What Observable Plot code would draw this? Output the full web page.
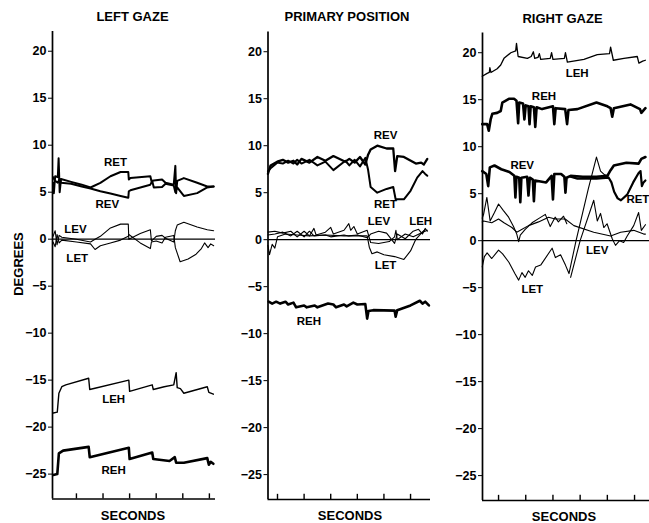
<!DOCTYPE html>
<html><head><meta charset="utf-8">
<script src="https://cdn.jsdelivr.net/npm/d3@7"></script>
<script src="https://cdn.jsdelivr.net/npm/@observablehq/plot@0.6"></script>
<style>
html,body{margin:0;padding:0;background:#fff;}
#wrap{position:relative;width:649px;height:523px;overflow:hidden;font-family:"Liberation Sans",Arial,Helvetica,sans-serif;font-weight:bold;color:#000;}
.t{position:absolute;white-space:nowrap;transform:translate(-50%,-50%);font-size:13px;}
.panel{position:absolute;top:0;}
.panel svg{overflow:visible;}
</style></head><body>
<div id="wrap"></div>
<script>
// ---- scales / ticks ----
const yDomain = [-27.65, 22.1];
const yTicks = [-25, -20, -15, -10, -5, 0, 5, 10, 15, 20];
const secondTicks = [1, 2, 3, 4, 5, 6];
const panelTitles = ["LEFT GAZE", "PRIMARY POSITION", "RIGHT GAZE"];
const xLabel = "SECONDS";
const yLabel = "DEGREES";

// ---- LEFT GAZE traces: [seconds, degrees] ----
const leftRET = [[0.12,6.0],[0.15,4.9],[0.2,6.7],[0.3,6.6],[0.33,8.6],[0.37,5.0],[0.42,6.4],[0.8,6.1],[1.2,5.8],[1.53,5.5],[1.9,6.0],[2.28,6.7],[2.66,7.15],[2.95,7.15],[2.97,6.35],[3.03,6.5],[3.78,6.7],[3.82,6.2],[3.91,6.25],[4.22,6.35],[4.35,6.0],[4.66,5.8],[4.72,7.8],[4.75,4.9],[4.79,6.2],[5.04,6.5],[5.54,6.0],[5.92,5.6],[6.16,5.6]];
const leftREV = [[0.12,6.6],[0.2,6.2],[0.3,6.0],[0.36,6.4],[0.42,6.0],[0.8,5.9],[1.2,5.6],[1.53,5.4],[1.9,5.1],[2.28,4.85],[2.66,4.6],[2.95,4.4],[2.97,5.1],[3.03,5.2],[3.78,5.8],[3.85,6.2],[3.91,5.5],[4.22,5.55],[4.35,5.9],[4.66,5.7],[4.72,5.0],[4.79,5.5],[5.04,4.6],[5.54,4.9],[5.92,5.5],[6.16,5.6]];
const leftLEV = [[0.12,0.3],[0.2,0.9],[0.27,-0.6],[0.35,0.4],[0.45,0.2],[1.0,0.0],[1.53,-0.3],[1.7,0.0],[1.9,0.3],[2.28,1.2],[2.66,1.6],[2.95,1.6],[2.97,0.0],[3.4,0.6],[3.78,1.0],[3.82,-0.2],[4.0,0.3],[4.22,0.4],[4.35,0.1],[4.66,-0.3],[4.72,0.9],[4.79,1.5],[5.04,1.8],[5.54,1.3],[5.92,1.0],[6.16,0.9]];
const leftLET = [[0.12,-0.3],[0.2,-0.8],[0.27,0.5],[0.35,-0.4],[0.45,-0.1],[1.0,-0.3],[1.53,-0.5],[1.7,-1.1],[1.9,-0.7],[2.28,-0.4],[2.66,-0.1],[2.95,0.3],[2.97,0.5],[3.4,-0.4],[3.78,-1.0],[3.82,-0.3],[4.0,-0.2],[4.22,-0.4],[4.35,0.2],[4.66,0.4],[4.72,-0.9],[4.9,-2.4],[5.2,-2.1],[5.5,-1.6],[5.7,-1.0],[5.82,-0.4],[5.95,-0.9],[6.05,-0.5],[6.16,-0.7]];
const leftLEH = [[0.13,-18.5],[0.28,-18.4],[0.34,-16.4],[0.45,-15.7],[0.6,-15.5],[1.46,-14.8],[1.5,-16.0],[2.97,-15.0],[3.0,-16.2],[3.85,-15.5],[3.89,-16.0],[4.3,-15.7],[4.66,-15.5],[4.75,-14.2],[4.79,-15.8],[4.91,-15.9],[5.04,-16.4],[5.92,-15.7],[5.98,-16.3],[6.15,-16.5]];
const leftREH = [[0.13,-25.1],[0.28,-25.0],[0.34,-22.8],[0.5,-22.5],[1.46,-22.1],[1.5,-23.2],[2.97,-22.2],[3.0,-23.4],[3.85,-22.7],[3.89,-23.4],[4.5,-23.6],[4.7,-23.2],[4.75,-23.8],[5.04,-23.8],[5.92,-23.3],[5.98,-24.0],[6.05,-23.7],[6.15,-23.9]];
const leftLabels = [["RET",2.47,8.2],["REV",2.16,3.7],["LEV",0.96,1.05],["LET",1.03,-2.0],["LEH",2.4,-17.05],["REH",2.4,-24.6]];

// ---- PRIMARY POSITION traces ----
const primREV = [[0.64,7.0],[0.74,7.9],[0.99,8.3],[1.2,8.5],[1.4,8.2],[1.6,8.4],[1.74,8.0],[1.9,8.6],[2.2,8.2],[2.5,8.8],[2.8,8.4],[3.1,8.9],[3.55,8.3],[3.7,8.6],[3.9,8.2],[4.1,8.8],[4.3,8.0],[4.4,9.0],[4.5,9.6],[4.75,10.0],[5.1,9.7],[5.35,9.7],[5.42,7.3],[5.5,8.9],[5.75,8.8],[6.2,8.1],[6.4,8.2],[6.5,8.0],[6.63,8.6]];
const primRET = [[0.64,7.3],[0.74,7.6],[0.99,8.2],[1.2,8.1],[1.4,8.4],[1.6,8.1],[1.74,8.5],[1.9,8.1],[2.2,8.5],[2.5,7.9],[2.8,8.3],[3.1,7.4],[3.55,8.4],[3.7,7.9],[3.9,8.5],[4.1,7.8],[4.3,8.7],[4.4,7.5],[4.5,5.6],[4.75,5.0],[5.1,5.4],[5.35,5.6],[5.44,4.3],[5.75,4.3],[6.0,5.2],[6.25,6.6],[6.45,7.3],[6.55,7.0],[6.63,6.8]];
const primLEV = [[0.64,0.8],[0.9,0.9],[1.2,0.7],[1.5,0.9],[1.74,0.3],[2.0,0.9],[2.2,0.4],[2.37,1.2],[2.45,0.5],[2.8,0.8],[3.0,1.3],[3.1,0.6],[3.5,1.0],[3.68,1.7],[3.75,1.0],[3.87,1.4],[4.0,0.6],[4.37,1.0],[4.5,-0.3],[4.8,-0.4],[5.2,-0.2],[5.4,0.3],[5.45,1.0],[5.5,0.0],[5.8,0.6],[6.1,0.3],[6.4,0.7],[6.63,1.0]];
const primLEH = [[0.64,0.5],[0.9,0.6],[1.2,0.8],[1.5,0.4],[1.74,0.9],[2.0,0.3],[2.2,0.9],[2.37,0.4],[2.8,0.5],[3.0,0.3],[3.5,0.5],[3.68,0.4],[4.0,0.5],[4.37,0.2],[4.5,0.6],[4.8,0.9],[5.1,0.7],[5.4,-0.4],[5.5,0.6],[5.8,0.1],[6.1,0.9],[6.3,1.1],[6.45,0.6],[6.55,1.2],[6.63,0.9]];
const primLET = [[0.64,-0.6],[0.7,-1.6],[0.8,-0.5],[0.9,-0.9],[1.0,0.3],[1.3,0.6],[1.74,0.5],[2.2,0.4],[2.8,0.5],[3.5,0.4],[4.37,0.4],[4.45,-0.8],[4.55,-1.5],[4.75,-1.3],[5.0,-1.6],[5.4,-1.8],[5.75,-2.1],[6.0,-1.2],[6.19,0.0],[6.44,0.8],[6.55,1.1]];
const primREH = [[0.67,-6.6],[0.8,-6.8],[0.95,-6.6],[1.1,-6.8],[1.3,-6.6],[1.4,-6.9],[1.6,-6.7],[1.7,-7.2],[2.0,-7.0],[2.1,-7.2],[2.4,-7.0],[2.5,-7.2],[2.9,-6.8],[3.1,-6.9],[3.2,-7.2],[3.5,-6.9],[3.6,-7.1],[3.85,-6.7],[4.0,-6.9],[4.3,-6.85],[4.37,-8.4],[4.42,-7.6],[4.6,-7.5],[5.4,-7.55],[5.44,-8.2],[5.5,-7.5],[6.0,-7.0],[6.35,-6.5],[6.45,-6.8],[6.55,-6.6],[6.69,-7.0]];
const primLabels = [["REV",5.06,11.06],["RET",5.06,3.72],["LEV",4.81,1.91],["LEH",6.38,1.91],["LET",5.06,-2.77],["REH",2.18,-8.69]];

// ---- RIGHT GAZE traces (NaN = trace break) ----
const rightLEH = [[0.4,17.5],[0.58,17.8],[0.66,17.9],[0.68,18.4],[0.72,17.9],[0.95,18.3],[1.08,18.7],[1.2,19.4],[1.45,20.0],[1.63,20.2],[1.66,21.0],[1.72,19.6],[2.06,19.4],[2.2,19.6],[2.28,20.1],[2.33,19.4],[2.45,19.5],[2.5,19.9],[2.55,19.3],[2.9,19.4],[2.95,20.0],[3.0,19.3],[3.42,19.4],[3.46,20.0],[3.53,19.0],[4.14,19.3],[4.63,19.8],[5.08,19.9],[5.12,20.6],[5.22,19.2],[5.61,19.4],[6.1,19.6],[6.16,18.9],[6.3,19.1],[6.4,19.2]];
const rightREH = [[0.4,12.4],[0.58,12.4],[0.64,11.7],[0.71,12.9],[0.77,13.5],[0.95,13.6],[1.08,13.8],[1.14,14.7],[1.38,15.1],[1.57,15.1],[1.66,14.9],[1.72,12.5],[1.76,14.7],[1.9,14.6],[1.95,12.9],[2.0,14.4],[2.1,14.3],[2.14,12.4],[2.18,14.3],[2.3,14.2],[2.35,12.1],[2.4,14.2],[2.6,14.0],[3.0,14.3],[3.05,12.4],[3.1,14.1],[3.45,14.0],[3.52,12.4],[3.57,13.9],[3.9,14.0],[4.6,14.7],[5.0,14.3],[5.12,14.1],[5.18,13.2],[5.24,14.1],[5.85,14.5],[6.2,14.0],[6.25,13.6],[6.4,14.1]];
const rightREV = [[0.4,7.4],[0.55,7.1],[0.62,5.8],[0.68,7.8],[0.85,8.0],[1.1,7.6],[1.4,7.3],[1.58,6.9],[1.62,4.6],[1.66,6.8],[1.76,6.7],[1.8,4.1],[1.84,6.7],[2.05,6.8],[2.1,4.8],[2.15,6.7],[2.26,6.5],[2.3,4.2],[2.34,6.4],[2.75,6.2],[2.95,6.9],[3.0,4.4],[3.05,7.1],[3.3,7.1],[3.42,6.8],[3.46,5.1],[3.5,6.7],[3.65,6.9],[4.1,6.8],[4.6,6.8],[5.0,6.9],[5.12,7.5],[5.24,8.0],[5.7,8.3],[6.15,8.2],[6.25,8.7],[6.4,8.9]];
const rightRET = [[3.65,6.8],[3.9,6.6],[4.6,6.6],[5.05,6.7],[5.15,6.2],[5.25,5.2],[5.38,4.5],[5.5,4.3],[5.73,4.9],[5.95,6.2],[6.15,7.2],[6.22,7.4],[6.27,5.8],[6.33,6.2],[6.4,6.4]];
const rightLEV = [[0.4,2.4],[0.45,2.8],[0.57,4.6],[0.69,2.1],[0.85,3.0],[1.0,3.9],[1.18,3.2],[1.37,2.5],[1.55,1.5],[1.67,0.7],[1.74,-0.1],[1.8,0.6],[1.98,1.2],[2.23,1.9],[2.5,2.4],[2.72,2.8],[2.9,1.5],[3.08,2.5],[3.2,2.0],[3.39,2.6],[3.51,1.8],[3.58,NaN],[3.65,-3.9],[4.0,0.0],[4.5,4.3],[4.63,2.1],[4.75,2.9],[4.87,1.4],[4.99,1.8],[5.18,0.2],[5.3,-0.5],[5.45,0.0],[5.6,-0.2],[5.73,0.5],[5.97,1.6],[6.15,3.0],[6.25,1.1],[6.4,1.7]];
const rightLET = [[0.4,-2.8],[0.48,-1.7],[0.58,-1.3],[0.75,-1.9],[1.0,-1.0],[1.15,-1.4],[1.38,-2.3],[1.6,-3.5],[1.74,-4.2],[1.86,-3.4],[1.98,-3.9],[2.1,-3.2],[2.24,-3.7],[2.36,-2.8],[2.55,-2.6],[2.9,-1.1],[2.97,-0.8],[3.09,-1.8],[3.28,-1.5],[3.46,-2.6],[3.59,-3.5],[3.85,0.0],[4.3,5.5],[4.6,8.9],[4.75,7.4],[4.9,7.0],[5.05,6.9]];
const rightTrace = [[0.4,2.0],[0.45,2.1],[0.75,1.9],[1.0,2.3],[1.2,1.9],[1.49,1.4],[1.67,0.9],[1.8,1.1],[2.1,1.6],[2.47,2.0],[2.84,2.5],[3.08,2.3],[3.45,2.3],[3.77,1.6],[4.5,0.9],[5.12,0.5],[5.49,0.9],[5.97,1.1],[6.34,0.7],[6.4,0.7]];
const rightLabels = [["LEH",3.89,17.8],["REH",2.67,15.4],["REV",1.87,8.05],["LEV",4.63,-1.06],["LET",2.24,-5.14]];
const rightEdgeLabels = [["RET",5.7,4.43]];

const THICK = 2.6, MED = 2.0, THIN = 1.1;

const wrap = document.getElementById("wrap");

function drawPanel(cfg) {
  const marks = [
    Plot.ruleY([0], {stroke: "#000", strokeWidth: 1.1}),
    ...cfg.traces.map(([data, w]) => Plot.line(data, {
      x: d => d[0], y: d => d[1], stroke: "#000", strokeWidth: w,
      strokeLinejoin: "round", strokeLinecap: "round"
    })),
    Plot.ruleX([cfg.xDomain[0]], {stroke: "#000", strokeWidth: 1.7}),
    Plot.ruleY([yDomain[0]], {stroke: "#000", strokeWidth: 1.7}),
    Plot.ruleX(secondTicks, {y1: yDomain[0], y2: yDomain[0] + 0.55, stroke: "#000", strokeWidth: 1.4}),
    Plot.text(cfg.labels, {x: d => d[1], y: d => d[2], text: d => d[0],
      fontSize: 11.5, fontWeight: "bold", fill: "#000"})
  ];
  if (cfg.edgeLabels) marks.push(Plot.text(cfg.edgeLabels, {x: d => d[1], y: d => d[2], text: d => d[0],
      textAnchor: "start", fontSize: 11.5, fontWeight: "bold", fill: "#000"}));
  const svg = Plot.plot({
    width: cfg.width, height: 523,
    marginLeft: cfg.mL, marginRight: cfg.mR, marginTop: cfg.mT, marginBottom: cfg.mB,
    x: {domain: cfg.xDomain, axis: null},
    y: {domain: yDomain, ticks: yTicks, tickSize: 4, tickPadding: 2, label: null},
    style: {fontFamily: '"Liberation Sans", Arial, Helvetica, sans-serif', fontSize: "12.5px",
            fontWeight: "bold", background: "transparent", overflow: "visible", color: "#000"},
    marks
  });
  const div = document.createElement("div");
  div.className = "panel";
  div.style.left = cfg.left + "px";
  div.appendChild(svg);
  wrap.appendChild(div);
}

drawPanel({left: 0, width: 219, mL: 52, mR: 4, mT: 31, mB: 24.5, xDomain: [0.1, 6.23],
  traces: [[leftRET, MED], [leftREV, MED], [leftLEV, THIN], [leftLET, THIN], [leftLEH, 1.4], [leftREH, THICK]],
  labels: leftLabels});
drawPanel({left: 220, width: 214, mL: 47.5, mR: 4, mT: 31.5, mB: 24, xDomain: [0.643, 6.75],
  traces: [[primREV, 2.3], [primRET, MED], [primLEV, THIN], [primLEH, THIN], [primLET, THIN], [primREH, THICK]],
  labels: primLabels});
drawPanel({left: 434, width: 215, mL: 48, mR: 0, mT: 32.5, mB: 23, xDomain: [0.41, 6.55],
  traces: [[rightLEH, 1.3], [rightREH, THICK], [rightREV, THICK], [rightRET, 2.2], [rightLEV, THIN], [rightLET, THIN], [rightTrace, THIN]],
  labels: rightLabels, edgeLabels: rightEdgeLabels});

function addText(txt, x, y, rot) {
  const d = document.createElement("div");
  d.className = "t";
  d.textContent = txt;
  d.style.left = x + "px";
  d.style.top = y + "px";
  if (rot) d.style.transform = "translate(-50%,-50%) rotate(-90deg)";
  wrap.appendChild(d);
}
addText(panelTitles[0], 132.5, 16);
addText(panelTitles[1], 347, 16);
addText(panelTitles[2], 562.5, 18);
addText(xLabel, 133, 515);
addText(xLabel, 350, 515);
addText(xLabel, 564, 516);
addText(yLabel, 18, 264, true);
</script>
</body></html>
